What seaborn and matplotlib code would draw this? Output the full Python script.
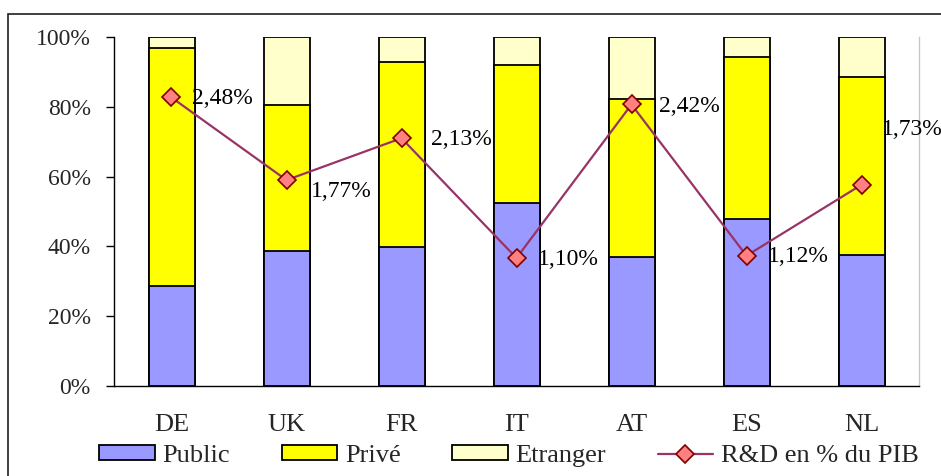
import numpy as np
import pandas as pd
import matplotlib
matplotlib.use("Agg")
import matplotlib.pyplot as plt
from matplotlib.patches import Patch, Rectangle
from matplotlib.lines import Line2D
import seaborn as sns

# Financement de la R&D par source (% du total) et effort de R&D (% du PIB)
pays = ["DE", "UK", "FR", "IT", "AT", "ES", "NL"]
public = [28.6, 38.8, 39.9, 52.5, 37.0, 47.9, 37.5]
prive = [68.2, 41.7, 52.8, 39.6, 45.2, 46.5, 51.1]
etranger = [3.2, 19.5, 7.3, 7.9, 17.8, 5.6, 11.4]
rd_pib = [2.48, 1.77, 2.13, 1.10, 2.42, 1.12, 1.73]
etiquettes_rd = ["2,48%", "1,77%", "2,13%", "1,10%", "2,42%", "1,12%", "1,73%"]
graduations = [0, 20, 40, 60, 80, 100]

c_public = "#9999FF"
c_prive = "#FFFF00"
c_etranger = "#FFFFCC"
c_ligne = "#993366"
c_marqueur = "#FF8080"
c_bord_marqueur = "#800000"

sns.set_theme(style="white")
plt.rcParams["font.family"] = ["Liberation Serif", "DejaVu Serif"]
FS_NUM = 17
FS_TXT = 19

df = pd.DataFrame({"pays": pays, "public": public, "prive": prive, "etranger": etranger})
df["haut_public"] = df["public"]
df["haut_prive"] = df["public"] + df["prive"]
df["haut_total"] = df["haut_prive"] + df["etranger"]

fig = plt.figure(figsize=(9.41, 4.76), dpi=100)
ax = fig.add_axes([114 / 941, 1 - 386 / 476, (919 - 114) / 941, (386 - 37) / 476])

# Empilement : on dessine le cumul le plus haut d'abord
for col, couleur in [("haut_total", c_etranger), ("haut_prive", c_prive), ("haut_public", c_public)]:
    sns.barplot(data=df, x="pays", y=col, color=couleur, width=0.4,
                edgecolor="black", linewidth=1.3, saturation=1, ax=ax)

ax.set_xlim(-0.5, len(pays) - 0.5)
ax.set_ylim(0, 100)
ax.set_yticks(graduations)
ax.set_yticklabels([f"{g}%" for g in graduations], fontsize=FS_NUM)
ax.set_xlabel("")
ax.set_ylabel("")
ax.set_xticks(np.arange(len(pays)))
ax.set_xticklabels(pays, fontsize=FS_TXT)
ax.set_xticks(np.arange(len(pays) + 1) - 0.5, minor=True)
ax.tick_params(axis="x", which="major", length=0, pad=20)
ax.tick_params(axis="x", which="minor", direction="out", length=6.5, width=1, color="black")
ax.tick_params(axis="y", direction="out", length=5.8, width=1, color="black", pad=11, left=True)
for s in ["left", "bottom"]:
    ax.spines[s].set_color("black")
    ax.spines[s].set_linewidth(1)
ax.spines["top"].set_visible(False)
ax.spines["right"].set_color("#C8C8C8")
ax.spines["right"].set_linewidth(1)
ax.grid(False)

# Effort de R&D sur un axe secondaire (0 - 3 %) non affiché
ax2 = ax.twinx()
x_pos = np.arange(len(pays))
sns.lineplot(x=x_pos, y=rd_pib, color=c_ligne, linewidth=1.6, marker="D",
             markersize=9.5, markerfacecolor=c_marqueur, markeredgecolor=c_bord_marqueur,
             markeredgewidth=1.2, ax=ax2)
ax2.set_ylim(0, 3.0)
ax2.set_xlim(-0.5, len(pays) - 0.5)
ax2.set_yticks([])
ax2.set_ylabel("")
for s in ax2.spines.values():
    s.set_visible(False)

decalages = [(21, -1), (24, -11), (29, -1), (21, -1), (28, -2), (21, -1), (20, 55)]
for xi, yi, txt, (dx, dy) in zip(x_pos, rd_pib, etiquettes_rd, decalages):
    ax2.annotate(txt, (xi, yi), xytext=(dx, dy), textcoords="offset pixels",
                 ha="left", va="center", fontsize=FS_NUM, color="black", annotation_clip=False)

# Légende en bas
poignees = [
    Patch(facecolor=c_public, edgecolor="black", linewidth=1.3),
    Patch(facecolor=c_prive, edgecolor="black", linewidth=1.3),
    Patch(facecolor=c_etranger, edgecolor="black", linewidth=1.3),
    Line2D([0], [0], color=c_ligne, linewidth=1.6, marker="D", markersize=9.5,
           markerfacecolor=c_marqueur, markeredgecolor=c_bord_marqueur, markeredgewidth=1.2),
]
fig.legend(poignees, ["Public", "Privé", "Etranger", "R&D en % du PIB"],
           loc="center", bbox_to_anchor=(509 / 941, 1 - 456 / 476), ncol=4,
           frameon=False, fontsize=FS_TXT, handlelength=2.1, handleheight=0.5,
           handletextpad=0.3, columnspacing=1.95, borderpad=0)

# Cadre extérieur du graphique
fig.patches.append(Rectangle((8 / 941, -0.1), 1.2, 1 - 14 / 476 + 0.1, transform=fig.transFigure,
                             fill=False, edgecolor="#202020", linewidth=1.2))

fig.savefig("out.png", dpi=100)
